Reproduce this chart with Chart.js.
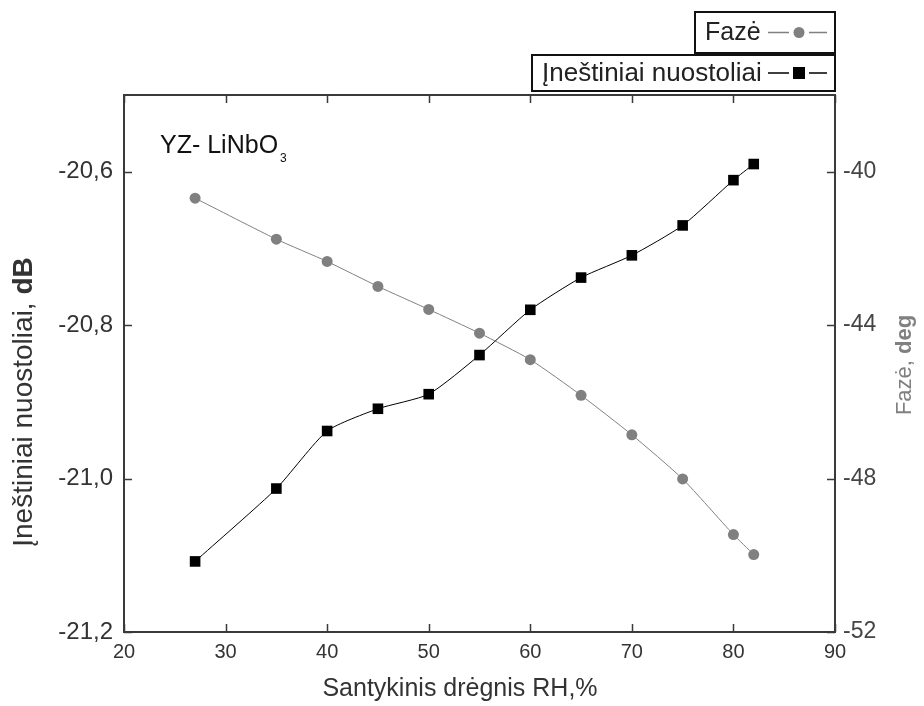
<!DOCTYPE html>
<html>
<head>
<meta charset="utf-8">
<script src="https://cdn.jsdelivr.net/npm/chart.js@4.4.1/dist/chart.umd.min.js"></script>
<style>
  html, body { margin: 0; padding: 0; background: #fff; }
  #wrap { width: 924px; height: 706px; }
</style>
</head>
<body>
<div id="wrap"><canvas id="chart" width="924" height="706"></canvas></div>
<script>
// values
const rhValues = [27, 35, 40, 45, 50, 55, 60, 65, 70, 75, 80, 82];
const lossDb = [-21.108, -21.013, -20.938, -20.909, -20.890, -20.839, -20.780, -20.738, -20.709, -20.670, -20.611, -20.590];
const phaseDeg = [-40.69, -41.76, -42.34, -42.99, -43.59, -44.21, -44.90, -45.83, -46.86, -48.01, -49.46, -49.98];

const xTicks = [20, 30, 40, 50, 60, 70, 80, 90];
const lossTicks = [-21.2, -21.0, -20.8, -20.6];
const phaseTicks = [-52, -48, -44, -40];

const FONT = "'Liberation Sans', Arial, sans-serif";
const PHASE_GREY = '#808080';

const fmtComma = v => v.toFixed(1).replace('.', ',');

function toPoints(xs, ys) {
    return xs.map((x, i) => ({ x: x, y: ys[i] }));
}

// frame, inward ticks, titles, legend boxes and the label inside the plot
const decorations = {
    id: 'decorations',
    afterDraw(chart) {
        const ctx = chart.ctx;
        const a = chart.chartArea;
        const sx = chart.scales.x, sy = chart.scales.y, sy1 = chart.scales.y1;
        const tick = 8;

        ctx.save();
        ctx.strokeStyle = '#3a3a3a';
        ctx.lineWidth = 2;
        ctx.strokeRect(a.left, a.top, a.right - a.left, a.bottom - a.top);

        ctx.lineWidth = 1.5;
        ctx.beginPath();
        xTicks.forEach(v => {
            const px = Math.round(sx.getPixelForValue(v)) + 0.5;
            ctx.moveTo(px, a.bottom); ctx.lineTo(px, a.bottom - tick);
            ctx.moveTo(px, a.top); ctx.lineTo(px, a.top + tick);
        });
        lossTicks.forEach(v => {
            const py = Math.round(sy.getPixelForValue(v)) + 0.5;
            ctx.moveTo(a.left, py); ctx.lineTo(a.left + tick, py);
        });
        phaseTicks.forEach(v => {
            const py = Math.round(sy1.getPixelForValue(v)) + 0.5;
            ctx.moveTo(a.right, py); ctx.lineTo(a.right - tick, py);
        });
        ctx.stroke();

        // x axis title
        ctx.fillStyle = '#333';
        ctx.font = '25px ' + FONT;
        ctx.textAlign = 'center';
        ctx.textBaseline = 'middle';
        ctx.fillText('Santykinis drėgnis RH,%', 460, 689);

        // left axis title, "dB" in bold
        drawMixedRotated(ctx, 24, 402, 28, [['Įneštiniai nuostoliai, ', ''], ['dB', 'bold ']], '#333');
        // right axis title, "deg" in bold
        drawMixedRotated(ctx, 905, 365, 22, [['Fazė, ', ''], ['deg', 'bold ']], PHASE_GREY);

        // label inside plot
        ctx.fillStyle = '#111';
        ctx.textAlign = 'left';
        ctx.textBaseline = 'alphabetic';
        ctx.font = '25px ' + FONT;
        ctx.fillText('YZ- LiNbO', 160, 153);
        const w = ctx.measureText('YZ- LiNbO').width;
        ctx.font = '12px ' + FONT;
        ctx.fillText('3', 160 + w + 2, 162);

        // legend boxes
        drawLegendBox(ctx, 695, 12, 835, 53, 'Fazė', 25, 'circle');
        drawLegendBox(ctx, 532, 55, 835, 91, 'Įneštiniai nuostoliai', 26, 'square');
        ctx.restore();
    }
};

function drawMixedRotated(ctx, cx, cy, size, parts, color) {
    ctx.save();
    ctx.translate(cx, cy);
    ctx.rotate(-Math.PI / 2);
    ctx.fillStyle = color;
    ctx.textBaseline = 'middle';
    ctx.textAlign = 'left';
    let total = 0;
    parts.forEach(p => { ctx.font = p[1] + size + 'px ' + FONT; total += ctx.measureText(p[0]).width; });
    let x = -total / 2;
    parts.forEach(p => {
        ctx.font = p[1] + size + 'px ' + FONT;
        ctx.fillText(p[0], x, 0);
        x += ctx.measureText(p[0]).width;
    });
    ctx.restore();
}

function drawLegendBox(ctx, x0, y0, x1, y1, text, size, marker) {
    ctx.save();
    ctx.fillStyle = '#fff';
    ctx.fillRect(x0, y0, x1 - x0, y1 - y0);
    ctx.strokeStyle = '#111';
    ctx.lineWidth = 2;
    ctx.strokeRect(x0, y0, x1 - x0, y1 - y0);
    const cy = (y0 + y1) / 2;
    ctx.fillStyle = '#222';
    ctx.font = size + 'px ' + FONT;
    ctx.textAlign = 'left';
    ctx.textBaseline = 'middle';
    ctx.fillText(text, x0 + 10, cy + 1);
    const color = marker === 'circle' ? PHASE_GREY : '#000';
    ctx.strokeStyle = color;
    ctx.lineWidth = 1.5;
    ctx.beginPath();
    ctx.moveTo(x1 - 67, cy); ctx.lineTo(x1 - 46, cy);
    ctx.moveTo(x1 - 26, cy); ctx.lineTo(x1 - 8, cy);
    ctx.stroke();
    ctx.fillStyle = color;
    if (marker === 'circle') {
        ctx.beginPath();
        ctx.arc(x1 - 36, cy, 5.5, 0, Math.PI * 2);
        ctx.fill();
    } else {
        ctx.fillRect(x1 - 42, cy - 6, 12, 12);
    }
    ctx.restore();
}

const chart = new Chart(document.getElementById('chart'), {
    type: 'line',
    data: {
        datasets: [
            {
                label: 'Fazė',
                data: toPoints(rhValues, phaseDeg),
                yAxisID: 'y1',
                borderColor: PHASE_GREY,
                backgroundColor: PHASE_GREY,
                borderWidth: 1,
                pointStyle: 'circle',
                pointRadius: 5.5,
                pointBorderWidth: 0,
                tension: 0.2,
                fill: false
            },
            {
                label: 'Įneštiniai nuostoliai',
                data: toPoints(rhValues, lossDb),
                yAxisID: 'y',
                borderColor: '#000',
                backgroundColor: '#000',
                borderWidth: 1,
                pointStyle: 'rect',
                pointRadius: 7.5,
                pointBorderWidth: 0,
                tension: 0.2,
                fill: false
            }
        ]
    },
    options: {
        responsive: false,
        animation: false,
        layout: { padding: { top: 95, left: 0, right: 0, bottom: 0 } },
        plugins: {
            legend: { display: false },
            tooltip: { enabled: false }
        },
        scales: {
            x: {
                type: 'linear',
                min: 20,
                max: 90,
                afterFit: s => { s.height = 74; },
                afterBuildTicks: s => { s.ticks = xTicks.map(v => ({ value: v })); },
                grid: { display: false, drawTicks: false },
                border: { display: false },
                ticks: {
                    padding: 8,
                    color: '#333',
                    font: { family: FONT, size: 20 },
                    maxRotation: 0
                }
            },
            y: {
                position: 'left',
                min: -21.2,
                max: -20.5,
                afterFit: s => { s.width = 124; },
                afterBuildTicks: s => { s.ticks = lossTicks.map(v => ({ value: v })); },
                grid: { display: false, drawTicks: false },
                border: { display: false },
                ticks: {
                    padding: 11,
                    color: '#333',
                    font: { family: FONT, size: 24 },
                    callback: v => fmtComma(v)
                }
            },
            y1: {
                position: 'right',
                min: -52,
                max: -38,
                afterFit: s => { s.width = 89; },
                afterBuildTicks: s => { s.ticks = phaseTicks.map(v => ({ value: v })); },
                grid: { display: false, drawTicks: false },
                border: { display: false },
                ticks: {
                    padding: 8,
                    color: '#444',
                    font: { family: FONT, size: 23 },
                    callback: v => String(v)
                }
            }
        }
    },
    plugins: [decorations]
});
</script>
</body>
</html>
